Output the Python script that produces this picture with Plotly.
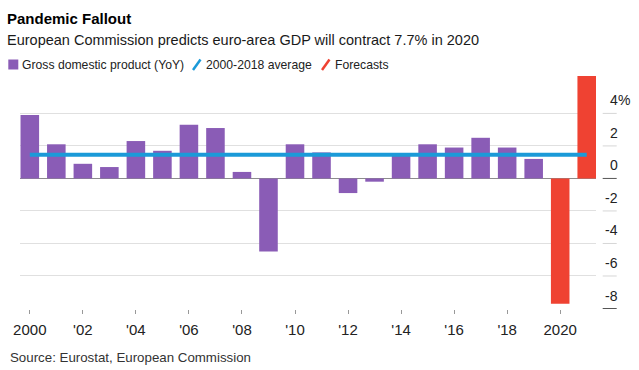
import plotly.graph_objects as go

# ---- data ----
gdp_years = list(range(2000, 2020))
gdp_values = [3.9, 2.1, 0.9, 0.7, 2.3, 1.7, 3.3, 3.1, 0.4, -4.5,
              2.1, 1.6, -0.9, -0.2, 1.4, 2.1, 1.9, 2.5, 1.9, 1.2]
forecast_years = [2020, 2021]
forecast_values = [-7.7, 6.3]
avg_years = [2000, 2021]
avg_value = 1.45

x_tickvals = list(range(2000, 2021, 2))
x_ticktext = ["2000", "'02", "'04", "'06", "'08", "'10", "'12", "'14", "'16", "'18", "2020"]
y_gridvals = [-6, -4, -2, 0, 2, 4]
y_labelvals = [-8, -6, -4, -2, 0, 2, 4]
y_labeltext = ["-8", "-6", "-4", "-2", "0", "2", "4"]

# ---- styles / layout ----
W, H = 639, 370
L, R, T, B = 20, 43, 76, 61
PW, PH = W - L - R, H - T - B
PURPLE = "#8a5cb6"
RED = "#ef4232"
BLUE = "#1b9ad8"
FONT = "Liberation Sans, Arial, sans-serif"


def px(xp):
    return (xp - L) / PW


def py(yp):
    return (H - B - yp) / PH


fig = go.Figure()
fig.add_trace(go.Bar(x=gdp_years, y=gdp_values, width=0.7,
                     marker=dict(color=PURPLE, line=dict(width=0)),
                     name="Gross domestic product (YoY)"))
fig.add_trace(go.Bar(x=forecast_years, y=forecast_values, width=0.7,
                     marker=dict(color=RED, line=dict(width=0)),
                     name="Forecasts"))
fig.add_trace(go.Scatter(x=avg_years, y=[avg_value] * len(avg_years), mode="lines",
                         line=dict(color=BLUE, width=4),
                         name="2000-2018 average"))

annotations = []


def text(x, y, s, size, color="#222", family=FONT, xanchor="left", yref="paper", yshift=0):
    annotations.append(dict(x=x, y=y, xref="paper", yref=yref, text=s, showarrow=False,
                            xanchor=xanchor, yanchor="middle", yshift=yshift,
                            borderpad=0, borderwidth=0,
                            font=dict(size=size, color=color, family=family)))


text(px(7), py(18.5), "<b>Pandemic Fallout</b>", 15, "#000")
text(px(7), py(39.5), "European Commission predicts euro-area GDP will contract 7.7% in 2020", 14.5, "#1a1a1a")
text(px(22), py(64.5), "Gross domestic product (YoY)", 12.2, "#222")
text(px(206), py(64.5), "2000-2018 average", 12.2, "#222")
text(px(334.5), py(64.5), "Forecasts", 12.2, "#222")
text(px(10), py(357), "Source: Eurostat, European Commission", 13.3, "#333")

# right-hand value labels (above their gridline)
for v, t in zip(y_labelvals, y_labeltext):
    text(px(617.5), v, t, 14, "#222", FONT, xanchor="right", yref="y", yshift=13)
text(px(617.5), max(y_labelvals), "%", 14, "#222", FONT, xanchor="left", yref="y", yshift=13)

shapes = []
# legend swatches
shapes.append(dict(type="rect", xref="paper", yref="paper",
                   x0=px(8.3), x1=px(18.3), y0=py(69.5), y1=py(59.5),
                   fillcolor=PURPLE, line=dict(width=0)))
shapes.append(dict(type="line", xref="paper", yref="paper",
                   x0=px(193), x1=px(200.5), y0=py(70), y1=py(59.5),
                   line=dict(color=BLUE, width=2.5)))
shapes.append(dict(type="line", xref="paper", yref="paper",
                   x0=px(322), x1=px(329.5), y0=py(70), y1=py(59.5),
                   line=dict(color=RED, width=2.5)))
# short dashes beside the value labels
for v in y_labelvals:
    dark = v in (0, min(y_labelvals))
    shapes.append(dict(type="line", xref="paper", yref="y",
                       x0=px(602.7), x1=px(616.7), y0=v, y1=v,
                       line=dict(color="#555" if dark else "#d6d6d6", width=1)))

fig.update_layout(
    width=W, height=H,
    margin=dict(l=L, r=R, t=T, b=B, pad=0),
    paper_bgcolor="white", plot_bgcolor="white",
    barmode="overlay", showlegend=False,
    annotations=annotations, shapes=shapes,
    xaxis=dict(range=[1999.63, 2021.35], tickvals=x_tickvals, ticktext=x_ticktext,
               ticks="outside", ticklen=4, tickwidth=1, tickcolor="#999",
               ticklabelstandoff=3,
               showgrid=False, zeroline=False, showline=False,
               tickfont=dict(size=15, color="#222", family=FONT)),
    yaxis=dict(range=[-8.03, 6.3], tickvals=y_gridvals, showticklabels=False,
               ticks="", showgrid=True, gridcolor="#e0e0e0", gridwidth=1,
               zeroline=True, zerolinecolor="#8c8c8c", zerolinewidth=1,
               showline=False),
)

fig.write_html("out.html",
               config={"displayModeBar": False},
               post_script="document.body.style.margin='0';document.body.style.padding='0';")
